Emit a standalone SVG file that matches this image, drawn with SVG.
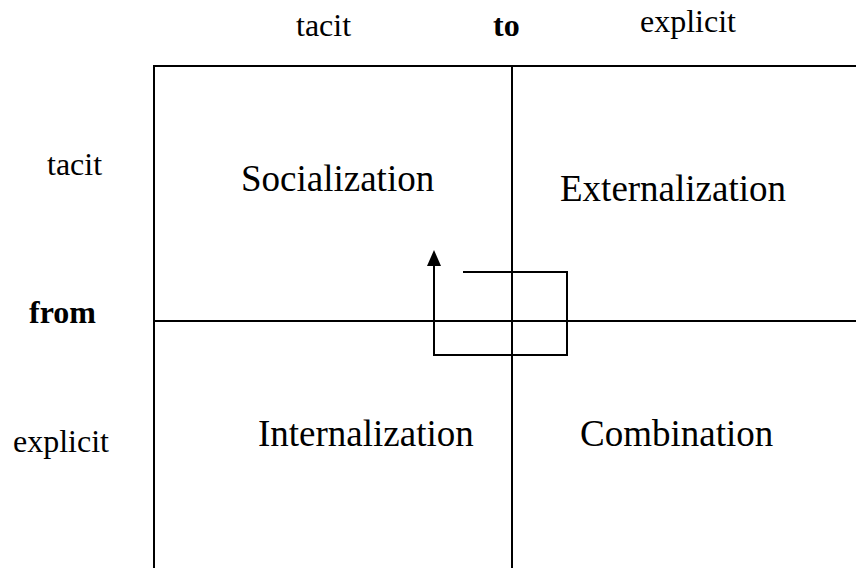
<svg xmlns="http://www.w3.org/2000/svg" width="856" height="568" viewBox="0 0 856 568">
<style>
.ln{stroke:#000;stroke-width:2;fill:none}
.s{font-family:"Liberation Serif","Times New Roman",serif;font-size:32px;fill:#000}
.b{font-weight:bold}
.q{font-family:"Liberation Serif","Times New Roman",serif;font-size:37px;fill:#000}
</style>
<rect width="856" height="568" fill="#fff"/>
<g id="grid">
<path class="ln" d="M153,66 H856 M154,66 V568 M512,66 V568 M154,321 H856"/>
</g>
<g id="axis-labels">
<text class="s" x="296" y="36">tacit</text>
<text class="s b" x="493" y="36">to</text>
<text class="s" x="640" y="32">explicit</text>
<text class="s" x="47" y="175">tacit</text>
<text class="s b" x="29" y="323">from</text>
<text class="s" x="13" y="452">explicit</text>
</g>
<g id="socialization"><text class="q" x="241" y="191">Socialization</text></g>
<g id="externalization"><text class="q" x="560" y="201">Externalization</text></g>
<g id="internalization"><text class="q" x="258" y="446">Internalization</text></g>
<g id="combination"><text class="q" x="580" y="446">Combination</text></g>
<g id="connectors">
<path class="ln" d="M463,272 H567 V355 H434 V263"/>
<polygon points="434,250 427,266 441,266" fill="#000"/>
</g>
</svg>
